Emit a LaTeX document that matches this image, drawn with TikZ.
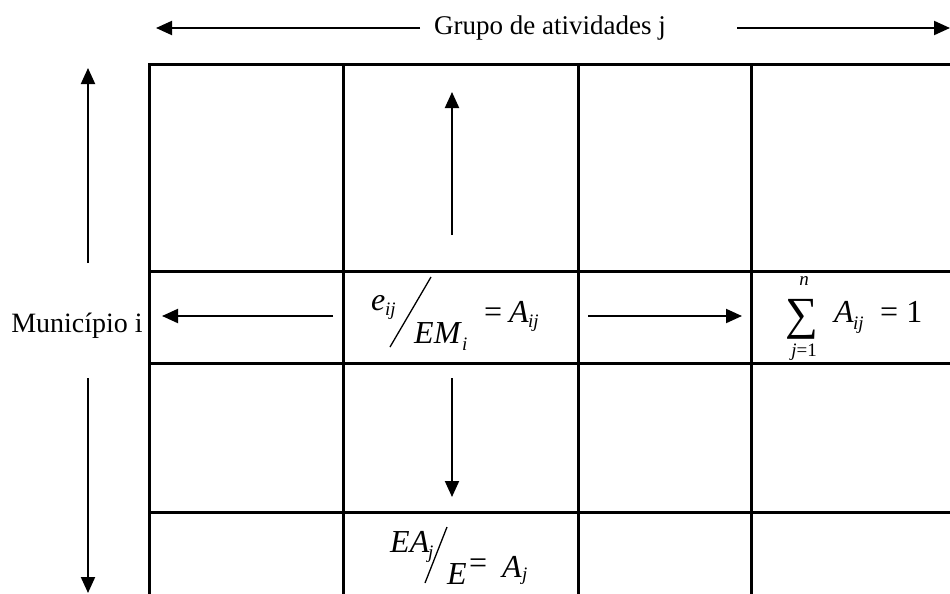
\documentclass[tikz,border=0pt]{standalone}
\usepackage{fontspec}
\setmainfont{Liberation Serif}
\usetikzlibrary{arrows.meta}
\tikzset{
  grid/.style={line width=3pt},
  arr/.style={line width=2pt,-{Triangle[length=16pt,width=14pt]}},
  lbl/.style={font=\fontsize{27}{32}\selectfont, inner sep=0pt},
  mlbl/.style={font=\fontsize{28}{32}\selectfont, inner sep=0pt},
  big/.style={font=\fontsize{32}{38}\selectfont\itshape, inner sep=0pt},
  up/.style={font=\fontsize{32}{38}\selectfont, inner sep=0pt},
  sub/.style={font=\fontsize{19}{22}\selectfont\itshape, inner sep=0pt},
  slash/.style={line width=1.3pt}
}
\begin{document}
\begin{tikzpicture}[x=1pt,y=-1pt]
\useasboundingbox (0,0) rectangle (950,594);
% table
\draw[grid] (149,594) -- (149,65) -- (950,65);
\draw[grid] (343,65) -- (343,594);
\draw[grid] (578,65) -- (578,594);
\draw[grid] (751,65) -- (751,594);
\draw[grid] (149,271) -- (950,271);
\draw[grid] (149,363) -- (950,363);
\draw[grid] (149,512) -- (950,512);
% top label and arrows
\node[lbl] (grp) at (550,28) {Grupo de atividades j};
\coordinate (tl) at (156,28); \coordinate (tls) at (420,28);
\coordinate (tr) at (950,28); \coordinate (trs) at (737,28);
\draw[arr] (tls) -- (tl);
\draw[arr] (trs) -- (tr);
% left label and arrows
\node[mlbl,anchor=base] (mun) at (77,332) {Município i};
\coordinate (lu) at (88,68); \coordinate (lus) at (88,263);
\coordinate (ld) at (88,593); \coordinate (lds) at (88,378);
\draw[arr] (lus) -- (lu);
\draw[arr] (lds) -- (ld);
% arrows from central cell
\coordinate (cu) at (452,92); \coordinate (cus) at (452,235);
\coordinate (cd) at (452,497); \coordinate (cds) at (452,378);
\coordinate (cl) at (162,316); \coordinate (cls) at (333,316);
\coordinate (cr) at (742,316); \coordinate (crs) at (588,316);
\draw[arr] (cus) -- (cu);
\draw[arr] (cds) -- (cd);
\draw[arr] (cls) -- (cl);
\draw[arr] (crs) -- (cr);
% formula e_ij / EM_i = A_ij
\node[big,anchor=base west] (e) at (371,310) {e};
\node[sub,anchor=base west] (eij) at (385,315) {ij};
\coordinate (s1a) at (390,347); \coordinate (s1b) at (431,277);
\draw[slash] (s1a) -- (s1b);
\node[big,anchor=base west] (em) at (414,343) {EM};
\node[sub,anchor=base west] (emi) at (462,350) {i};
\node[up,anchor=base west] (eq1) at (484,322) {=};
\node[big,anchor=base west] (a1) at (509,322) {A};
\node[sub,anchor=base west] (a1ij) at (528,327) {ij};
% sum
\node[inner sep=0pt,font=\fontsize{46}{50}\selectfont] (sig) at (802,319) {∑};
\node[sub,anchor=base] (sn) at (804,285) {n};
\node[sub] (sj) at (804,352) {j\upshape =1};
\node[big,anchor=base west] (a2) at (834,322) {A};
\node[sub,anchor=base west] (a2ij) at (853,329) {ij};
\node[up,anchor=base west] (eq2) at (880,322) {= 1};
% formula EA_j / E = A_j
\node[big,anchor=base west] (ea) at (390,552) {EA};
\node[sub,anchor=base west] (eaj) at (428,558) {j};
\coordinate (s2a) at (425,583); \coordinate (s2b) at (447,527);
\draw[slash] (s2a) -- (s2b);
\node[big,anchor=base west] (ee) at (447,584) {E};
\node[up,anchor=base west] (eq3) at (469,573) {=};
\node[big,anchor=base west] (a3) at (502,577) {A};
\node[sub,anchor=base west] (a3j) at (522,580) {j};
\end{tikzpicture}
\end{document}
